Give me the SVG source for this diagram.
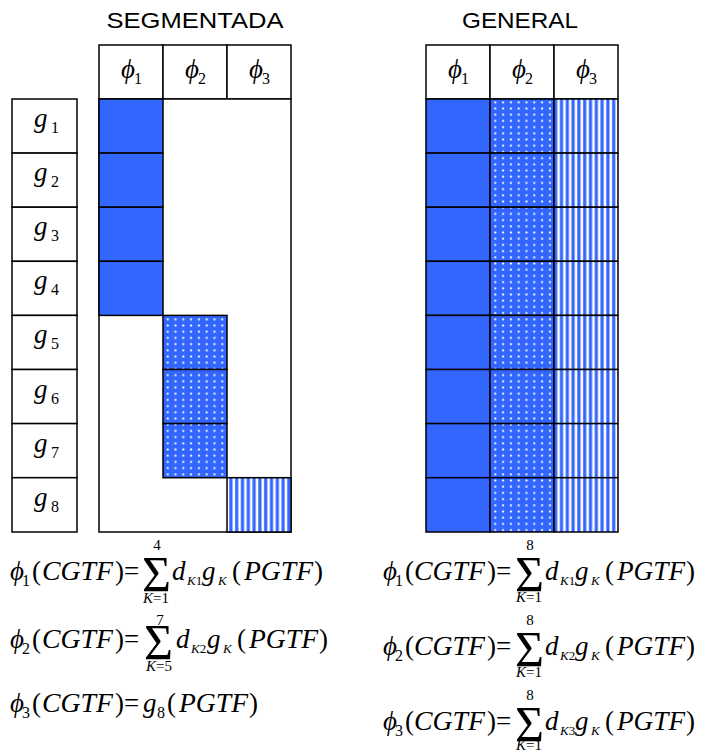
<svg xmlns="http://www.w3.org/2000/svg" width="704" height="753" viewBox="0 0 704 753">
<style>
.title{font-family:"Liberation Sans",Arial,sans-serif;font-size:22px;fill:#000;text-anchor:middle}
.m{font-family:"Liberation Serif","Times New Roman",serif;font-size:27px;fill:#000}
.i{font-style:italic}
.sub{font-family:"Liberation Serif","Times New Roman",serif;font-size:16px;fill:#000}
.ss{font-family:"Liberation Serif","Times New Roman",serif;font-size:13px;fill:#000}
.lim{font-family:"Liberation Serif","Times New Roman",serif;font-size:15px;fill:#000;text-anchor:middle}
.sig{font-family:"Liberation Serif","Times New Roman",serif;font-size:50px;fill:#000}
.cell{fill:#fff;stroke:#000;stroke-width:1.5}
.solid{fill:#3366ff;stroke:#000;stroke-width:1.5}
.dot{fill:url(#dots);stroke:#000;stroke-width:1.5}
.str{fill:url(#stripes);stroke:#000;stroke-width:1.5}
</style>
<defs>
<pattern id="dots" width="7.8" height="6.2" patternUnits="userSpaceOnUse">
<rect width="7.8" height="6.2" fill="#3366ff"/>
<circle cx="3.9" cy="3.1" r="1.1" fill="#f2f5ff"/>
</pattern>
<pattern id="stripes" width="5.8" height="10" patternUnits="userSpaceOnUse">
<rect width="5.8" height="10" fill="#3366ff"/>
<rect x="0.5" width="2.6" height="10" fill="#fff"/>
</pattern>
</defs>

<text class="title" x="195" y="28" textLength="177" lengthAdjust="spacingAndGlyphs">SEGMENTADA</text>
<text class="title" x="520" y="28" textLength="116" lengthAdjust="spacingAndGlyphs">GENERAL</text>

<g id="gcol">
<rect class="cell" x="12" y="99" width="65" height="54.1"/>
<rect class="cell" x="12" y="153.1" width="65" height="54.1"/>
<rect class="cell" x="12" y="207.2" width="65" height="54.1"/>
<rect class="cell" x="12" y="261.3" width="65" height="54.1"/>
<rect class="cell" x="12" y="315.4" width="65" height="54.1"/>
<rect class="cell" x="12" y="369.5" width="65" height="54.1"/>
<rect class="cell" x="12" y="423.6" width="65" height="54.1"/>
<rect class="cell" x="12" y="477.7" width="65" height="54.3"/>
<text class="m i" x="34" y="127" font-size="29">g</text><text class="sub" x="51" y="133">1</text>
<text class="m i" x="34" y="181.1" font-size="29">g</text><text class="sub" x="51" y="187.1">2</text>
<text class="m i" x="34" y="235.2" font-size="29">g</text><text class="sub" x="51" y="241.2">3</text>
<text class="m i" x="34" y="289.3" font-size="29">g</text><text class="sub" x="51" y="295.3">4</text>
<text class="m i" x="34" y="343.4" font-size="29">g</text><text class="sub" x="51" y="349.4">5</text>
<text class="m i" x="34" y="397.5" font-size="29">g</text><text class="sub" x="51" y="403.5">6</text>
<text class="m i" x="34" y="451.6" font-size="29">g</text><text class="sub" x="51" y="457.6">7</text>
<text class="m i" x="34" y="505.7" font-size="29">g</text><text class="sub" x="51" y="511.7">8</text>
</g>

<g id="seg-table">
<rect class="cell" x="99" y="45" width="64" height="54"/>
<rect class="cell" x="163" y="45" width="64" height="54"/>
<rect class="cell" x="227" y="45" width="64" height="54"/>
<text class="m i" x="121" y="78" font-size="29">ϕ</text><text class="sub" x="134" y="84">1</text>
<text class="m i" x="185" y="78" font-size="29">ϕ</text><text class="sub" x="198" y="84">2</text>
<text class="m i" x="249" y="78" font-size="29">ϕ</text><text class="sub" x="262" y="84">3</text>
<rect class="cell" x="99" y="99" width="192" height="433"/>
<rect class="solid" x="99" y="99" width="64" height="54.1"/>
<rect class="solid" x="99" y="153.1" width="64" height="54.1"/>
<rect class="solid" x="99" y="207.2" width="64" height="54.1"/>
<rect class="solid" x="99" y="261.3" width="64" height="54.1"/>
<rect class="dot" x="163" y="315.4" width="64" height="54.1"/>
<rect class="dot" x="163" y="369.5" width="64" height="54.1"/>
<rect class="dot" x="163" y="423.6" width="64" height="54.1"/>
<rect class="str" x="227" y="477.7" width="64" height="54.3"/>
</g>

<g id="gen-table">
<rect class="cell" x="426" y="45" width="64" height="54"/>
<rect class="cell" x="490" y="45" width="64" height="54"/>
<rect class="cell" x="554" y="45" width="64" height="54"/>
<text class="m i" x="448" y="78" font-size="29">ϕ</text><text class="sub" x="461" y="84">1</text>
<text class="m i" x="512" y="78" font-size="29">ϕ</text><text class="sub" x="525" y="84">2</text>
<text class="m i" x="576" y="78" font-size="29">ϕ</text><text class="sub" x="589" y="84">3</text>
<rect class="solid" x="426" y="99" width="64" height="54.1"/>
<rect class="solid" x="426" y="153.1" width="64" height="54.1"/>
<rect class="solid" x="426" y="207.2" width="64" height="54.1"/>
<rect class="solid" x="426" y="261.3" width="64" height="54.1"/>
<rect class="solid" x="426" y="315.4" width="64" height="54.1"/>
<rect class="solid" x="426" y="369.5" width="64" height="54.1"/>
<rect class="solid" x="426" y="423.6" width="64" height="54.1"/>
<rect class="solid" x="426" y="477.7" width="64" height="54.3"/>
<rect class="dot" x="490" y="99" width="64" height="54.1"/>
<rect class="dot" x="490" y="153.1" width="64" height="54.1"/>
<rect class="dot" x="490" y="207.2" width="64" height="54.1"/>
<rect class="dot" x="490" y="261.3" width="64" height="54.1"/>
<rect class="dot" x="490" y="315.4" width="64" height="54.1"/>
<rect class="dot" x="490" y="369.5" width="64" height="54.1"/>
<rect class="dot" x="490" y="423.6" width="64" height="54.1"/>
<rect class="dot" x="490" y="477.7" width="64" height="54.3"/>
<rect class="str" x="554" y="99" width="64" height="54.1"/>
<rect class="str" x="554" y="153.1" width="64" height="54.1"/>
<rect class="str" x="554" y="207.2" width="64" height="54.1"/>
<rect class="str" x="554" y="261.3" width="64" height="54.1"/>
<rect class="str" x="554" y="315.4" width="64" height="54.1"/>
<rect class="str" x="554" y="369.5" width="64" height="54.1"/>
<rect class="str" x="554" y="423.6" width="64" height="54.1"/>
<rect class="str" x="554" y="477.7" width="64" height="54.3"/>
</g>

<g id="f-left-1">
<text class="m i" x="10" y="580">ϕ</text><text class="sub" x="22" y="586">1</text>
<text class="m" x="32" y="580">(</text>
<text class="m i" x="42" y="580" textLength="71" lengthAdjust="spacingAndGlyphs">CGTF</text>
<text class="m" x="115" y="580">)</text>
<text class="m" x="124" y="580">=</text>
<text class="sig" x="142" y="591" textLength="29" lengthAdjust="spacingAndGlyphs">Σ</text>
<text class="lim" x="157" y="550">4</text>
<text class="lim" x="156" y="603"><tspan font-style="italic">K</tspan>=1</text>
<text class="m i" x="172" y="580">d</text>
<text class="ss" x="187" y="585"><tspan font-style="italic">K</tspan>1</text>
<text class="m i" x="202" y="580">g</text>
<text class="ss" x="218" y="585" font-style="italic">K</text>
<text class="m" x="232" y="580">(</text>
<text class="m i" x="244" y="580" textLength="69" lengthAdjust="spacingAndGlyphs">PGTF</text>
<text class="m" x="314" y="580">)</text>
</g>
<g id="f-left-2">
<text class="m i" x="10" y="648">ϕ</text><text class="sub" x="22" y="654">2</text>
<text class="m" x="32" y="648">(</text>
<text class="m i" x="42" y="648" textLength="71" lengthAdjust="spacingAndGlyphs">CGTF</text>
<text class="m" x="115" y="648">)</text>
<text class="m" x="124" y="648">=</text>
<text class="sig" x="144" y="659" textLength="29" lengthAdjust="spacingAndGlyphs">Σ</text>
<text class="lim" x="160" y="625">7</text>
<text class="lim" x="159" y="671"><tspan font-style="italic">K</tspan>=5</text>
<text class="m i" x="176" y="648">d</text>
<text class="ss" x="191" y="653"><tspan font-style="italic">K</tspan>2</text>
<text class="m i" x="207" y="648">g</text>
<text class="ss" x="223" y="653" font-style="italic">K</text>
<text class="m" x="237" y="648">(</text>
<text class="m i" x="249" y="648" textLength="69" lengthAdjust="spacingAndGlyphs">PGTF</text>
<text class="m" x="319" y="648">)</text>
</g>
<g id="f-left-3">
<text class="m i" x="10" y="712">ϕ</text><text class="sub" x="22" y="718">3</text>
<text class="m" x="32" y="712">(</text>
<text class="m i" x="42" y="712" textLength="71" lengthAdjust="spacingAndGlyphs">CGTF</text>
<text class="m" x="115" y="712">)</text>
<text class="m" x="124" y="712">=</text>
<text class="m i" x="143" y="712">g</text>
<text class="sub" x="157" y="718">8</text>
<text class="m" x="167" y="712">(</text>
<text class="m i" x="179" y="712" textLength="69" lengthAdjust="spacingAndGlyphs">PGTF</text>
<text class="m" x="249" y="712">)</text>
</g>

<g id="f-right-1">
<text class="m i" x="383" y="580">ϕ</text><text class="sub" x="395" y="586">1</text>
<text class="m" x="405" y="580">(</text>
<text class="m i" x="414" y="580" textLength="71" lengthAdjust="spacingAndGlyphs">CGTF</text>
<text class="m" x="487" y="580">)</text>
<text class="m" x="496" y="580">=</text>
<text class="sig" x="515" y="591" textLength="29" lengthAdjust="spacingAndGlyphs">Σ</text>
<text class="lim" x="530" y="550">8</text>
<text class="lim" x="529" y="602"><tspan font-style="italic">K</tspan>=1</text>
<text class="m i" x="545" y="580">d</text>
<text class="ss" x="560" y="585"><tspan font-style="italic">K</tspan>1</text>
<text class="m i" x="575" y="580">g</text>
<text class="ss" x="591" y="585" font-style="italic">K</text>
<text class="m" x="605" y="580">(</text>
<text class="m i" x="617" y="580" textLength="68" lengthAdjust="spacingAndGlyphs">PGTF</text>
<text class="m" x="686" y="580">)</text>
</g>
<g id="f-right-2">
<text class="m i" x="383" y="655">ϕ</text><text class="sub" x="395" y="661">2</text>
<text class="m" x="405" y="655">(</text>
<text class="m i" x="414" y="655" textLength="71" lengthAdjust="spacingAndGlyphs">CGTF</text>
<text class="m" x="487" y="655">)</text>
<text class="m" x="496" y="655">=</text>
<text class="sig" x="515" y="666" textLength="29" lengthAdjust="spacingAndGlyphs">Σ</text>
<text class="lim" x="530" y="625">8</text>
<text class="lim" x="529" y="677"><tspan font-style="italic">K</tspan>=1</text>
<text class="m i" x="545" y="655">d</text>
<text class="ss" x="560" y="660"><tspan font-style="italic">K</tspan>2</text>
<text class="m i" x="575" y="655">g</text>
<text class="ss" x="591" y="660" font-style="italic">K</text>
<text class="m" x="605" y="655">(</text>
<text class="m i" x="617" y="655" textLength="68" lengthAdjust="spacingAndGlyphs">PGTF</text>
<text class="m" x="686" y="655">)</text>
</g>
<g id="f-right-3">
<text class="m i" x="383" y="730">ϕ</text><text class="sub" x="395" y="736">3</text>
<text class="m" x="405" y="730">(</text>
<text class="m i" x="414" y="730" textLength="71" lengthAdjust="spacingAndGlyphs">CGTF</text>
<text class="m" x="487" y="730">)</text>
<text class="m" x="496" y="730">=</text>
<text class="sig" x="515" y="741" textLength="29" lengthAdjust="spacingAndGlyphs">Σ</text>
<text class="lim" x="530" y="700">8</text>
<text class="lim" x="529" y="750" font-size="14"><tspan font-style="italic">K</tspan>=1</text>
<text class="m i" x="545" y="730">d</text>
<text class="ss" x="560" y="735"><tspan font-style="italic">K</tspan>3</text>
<text class="m i" x="575" y="730">g</text>
<text class="ss" x="591" y="735" font-style="italic">K</text>
<text class="m" x="605" y="730">(</text>
<text class="m i" x="617" y="730" textLength="68" lengthAdjust="spacingAndGlyphs">PGTF</text>
<text class="m" x="686" y="730">)</text>
</g>
</svg>
